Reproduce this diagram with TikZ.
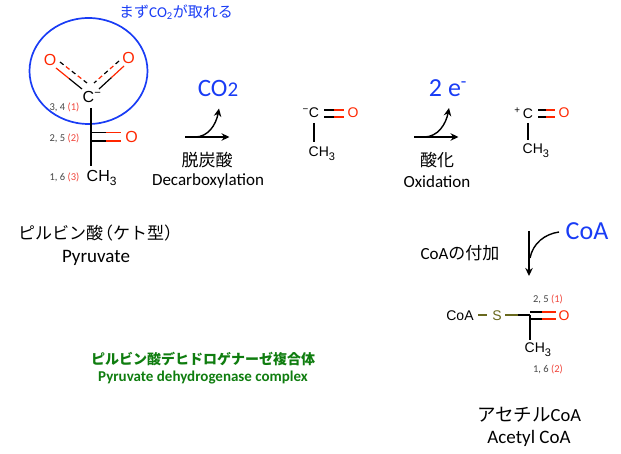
\documentclass[tikz,border=0pt]{standalone}
\usepackage{fontspec}
\usetikzlibrary{calc, arrows.meta}
\setmainfont{Carlito}
\newfontfamily\chemfont{Liberation Sans}
\newfontfamily\jpfont{Noto Sans CJK JP}
\newcommand{\subthree}[1]{\raisebox{-4pt}{\fontsize{#1}{#1}\selectfont 3}}

\begin{document}
\begin{tikzpicture}[x=1pt, y=-1pt]

\def\bondwidth{1.2pt}
\definecolor{oxred}{RGB}{255,38,0}
\definecolor{labelblue}{RGB}{25,60,245}
\definecolor{labelgray}{RGB}{70,70,70}
\definecolor{labelred}{RGB}{240,70,60}
\definecolor{sulfur}{RGB}{105,105,30}
\definecolor{enzgreen}{RGB}{15,125,15}

\tikzset{
  atom/.style={inner sep=0pt, font=\chemfont\fontsize{16}{16}\selectfont},
  atomsmall/.style={inner sep=0pt, font=\chemfont\fontsize{14}{14}\selectfont},
  bondblack/.style={line width=\bondwidth, black},
  bondred/.style={line width=\bondwidth, oxred},
  dashblack/.style={bondblack, dash pattern=on 4.5pt off 10.5pt},
  dashred/.style={bondred, dash pattern=on 4.5pt off 10.5pt, dash phase=7.5pt},
  number/.style={inner sep=0pt, labelgray, font=\fontsize{10.5}{10.5}\selectfont},
  jptext/.style={inner sep=0pt, font=\jpfont\fontsize{17}{17}\selectfont},
  entext/.style={inner sep=0pt, font=\fontsize{17}{17}\selectfont},
  enlarge/.style={inner sep=0pt, font=\fontsize{19}{19}\selectfont},
  bluetext/.style={inner sep=0pt, labelblue},
  react/.style={line width=1.4pt, -{Stealth[length=8pt, width=7.5pt]}},
}

\useasboundingbox (0,0) rectangle (621,454);

% pyruvate
\node[bluetext, font=\jpfont\fontsize{15}{15}\selectfont] (first) at (176,12) {まず{\rmfamily CO\textsubscript{2}}が取れる};
\draw[labelblue, line width=1.7pt] (88.5,71) ellipse (59 and 53);

\node[atom, oxred] (oLeft) at (50,59.5) {O};
\node[atom, oxred] (oRight) at (128.5,58) {O};
\node[atom] (cOne) at (92,97) {C\textsuperscript{−}};

\coordinate (leftA) at (82,89);
\coordinate (leftB) at (56,68);
\coordinate (leftC) at (87,83);
\coordinate (leftD) at (60,62);
\coordinate (rightA) at (99,89);
\coordinate (rightB) at (124,66);
\coordinate (rightC) at (94,83);
\coordinate (rightD) at (119,61);

\draw[bondblack] (leftA) -- ($(leftA)!.5!(leftB)$);
\draw[bondred] ($(leftA)!.5!(leftB)$) -- (leftB);
\draw[dashblack] (leftD) -- (leftC);
\draw[dashred] (leftD) -- (leftC);
\draw[bondblack] (rightA) -- ($(rightA)!.5!(rightB)$);
\draw[bondred] ($(rightA)!.5!(rightB)$) -- (rightB);
\draw[dashblack] (rightD) -- (rightC);
\draw[dashred] (rightD) -- (rightC);

\coordinate (chainTop) at (91,108);
\coordinate (chainEnd) at (91,166);
\coordinate (ketoA) at (91,132.5);
\coordinate (ketoB) at (91,141);
\coordinate (ketoAm) at (106,132.5);
\coordinate (ketoBm) at (106,141);
\coordinate (ketoAe) at (121,132.5);
\coordinate (ketoBe) at (121,141);
\draw[bondblack] (chainTop) -- (chainEnd);
\draw[bondblack] (ketoA) -- (ketoAm);
\draw[bondred] (ketoAm) -- (ketoAe);
\draw[bondblack] (ketoB) -- (ketoBm);
\draw[bondred] (ketoBm) -- (ketoBe);

\node[atom, oxred] (oKeto) at (131.5,137) {O};
\node[atom, anchor=west] (chOne) at (86.5,178) {CH\subthree{12}};

\node[number] (numA) at (64.5,107) {3, 4 \textcolor{labelred}{(1)}};
\node[number] (numB) at (64.5,138) {2, 5 \textcolor{labelred}{(2)}};
\node[number] (numC) at (64.5,177) {1, 6 \textcolor{labelred}{(3)}};

\node[jptext] (nameJp) at (95.5,233) {ピルビン酸\kern-7pt（ケト型）\kern-8pt};
\node[enlarge] (nameEn) at (96,258) {Pyruvate};

% decarboxylation
\node[bluetext, font=\fontsize{25}{25}\selectfont] (coTwo) at (218,88) {CO\raisebox{0pt}{\fontsize{21}{21}\selectfont 2}};
\coordinate (decarbA) at (185,137);
\coordinate (decarbB) at (229.5,137);
\coordinate (decarbC) at (195,137);
\coordinate (decarbD) at (219,108.5);
\draw[react] (decarbA) -- (decarbB);
\draw[react] (decarbC) .. controls (208,137) and (216,125) .. (decarbD);
\node[jptext] (decarbJp) at (207,160) {脱炭酸};
\node[entext] (decarbEn) at (208,181) {Decarboxylation};

% acetyl anion
\node[atomsmall] (cTwo) at (314,113) {\llap{\textsuperscript{−}}C};
\node[atomsmall, oxred] (oTwo) at (353,113) {O};
\coordinate (twoA) at (324,110);
\coordinate (twoB) at (324,117);
\coordinate (twoAm) at (334,110);
\coordinate (twoBm) at (334,117);
\coordinate (twoAe) at (343.5,110);
\coordinate (twoBe) at (343.5,117);
\draw[bondblack] (twoA) -- (twoAm);
\draw[bondred] (twoAm) -- (twoAe);
\draw[bondblack] (twoB) -- (twoBm);
\draw[bondred] (twoBm) -- (twoBe);
\coordinate (twoUp) at (314,123);
\coordinate (twoDown) at (314,142);
\draw[bondblack] (twoUp) -- (twoDown);
\node[atomsmall, anchor=west] (chTwo) at (308.5,154) {CH\subthree{11}};

% oxidation
\node[bluetext, font=\fontsize{26}{26}\selectfont] (twoE) at (448,88) {2 e\textsuperscript{-}};
\coordinate (oxA) at (414,137);
\coordinate (oxB) at (458.5,137);
\coordinate (oxC) at (424,137);
\coordinate (oxD) at (449,108);
\draw[react] (oxA) -- (oxB);
\draw[react] (oxC) .. controls (438,137) and (446,124) .. (oxD);
\node[jptext] (oxJp) at (437,160) {酸化};
\node[entext] (oxEn) at (437,182) {Oxidation};

% acetyl cation
\node[atomsmall] (cThree) at (528,113) {\llap{\textsuperscript{+}\,}C};
\node[atomsmall, oxred] (oThree) at (564,113) {O};
\coordinate (threeA) at (538,110);
\coordinate (threeB) at (538,117);
\coordinate (threeAm) at (546,110);
\coordinate (threeBm) at (546,117);
\coordinate (threeAe) at (555,110);
\coordinate (threeBe) at (555,117);
\draw[bondblack] (threeA) -- (threeAm);
\draw[bondred] (threeAm) -- (threeAe);
\draw[bondblack] (threeB) -- (threeBm);
\draw[bondred] (threeBm) -- (threeBe);
\coordinate (threeUp) at (528,123);
\coordinate (threeDown) at (528,140);
\draw[bondblack] (threeUp) -- (threeDown);
\node[atomsmall, anchor=west] (chThree) at (522.5,151) {CH\subthree{11}};

% CoA addition
\node[bluetext, font=\fontsize{26}{26}\selectfont] (coaIn) at (587,231) {CoA};
\coordinate (addA) at (529,231);
\coordinate (addB) at (529,276);
\coordinate (addC) at (559,232);
\coordinate (addD) at (530,258);
\draw[react] (addA) -- (addB);
\draw[line width=1.4pt] (addC) .. controls (545,234) and (533,243) .. (addD);
\node[inner sep=0pt, font=\jpfont\fontsize{17}{17}\selectfont] (addLabel) at (460,253) {{\rmfamily CoA}の付加};

% acetyl CoA
\node[atomsmall] (coaGroup) at (460,316) {CoA};
\node[atomsmall, sulfur] (sulfurS) at (497,316) {S};
\node[atomsmall, oxred] (oFour) at (564,316) {O};
\coordinate (dashA) at (478,315);
\coordinate (dashB) at (487,315);
\coordinate (bondA) at (505,315);
\coordinate (bondM) at (518,315);
\coordinate (bondB) at (530,315);
\draw[line width=\bondwidth, sulfur] (dashA) -- (dashB);
\draw[line width=\bondwidth, sulfur] (bondA) -- (bondM);
\draw[bondblack] (bondM) -- (bondB);
\coordinate (fourA) at (530,312);
\coordinate (fourB) at (530,319);
\coordinate (fourAm) at (542,312);
\coordinate (fourBm) at (542,319);
\coordinate (fourAe) at (555.5,312);
\coordinate (fourBe) at (555.5,319);
\draw[bondblack] (fourA) -- (fourAm);
\draw[bondred] (fourAm) -- (fourAe);
\draw[bondblack] (fourB) -- (fourBm);
\draw[bondred] (fourBm) -- (fourBe);
\coordinate (fourDown) at (530,340);
\draw[bondblack] (bondB) -- (fourDown);
\node[atomsmall, anchor=west] (chFour) at (524.5,350) {CH\subthree{11}};

\node[number] (numD) at (548,299) {2, 5 \textcolor{labelred}{(1)}};
\node[number] (numE) at (548,369) {1, 6 \textcolor{labelred}{(2)}};

\node[inner sep=0pt, font=\jpfont\fontsize{18.5}{18.5}\selectfont] (acetylJp) at (529,415) {アセチル{\rmfamily CoA}};
\node[enlarge] (acetylEn) at (529,438) {Acetyl CoA};

% enzyme
\node[inner sep=0pt, enzgreen, font=\jpfont\bfseries\fontsize{14}{14}\selectfont] (enzJp) at (203,359) {ピルビン酸デヒドロゲナーゼ複合体};
\node[inner sep=0pt, enzgreen, font=\bfseries\fontsize{15}{15}\selectfont] (enzEn) at (203,378) {Pyruvate dehydrogenase complex};

\end{tikzpicture}
\end{document}
